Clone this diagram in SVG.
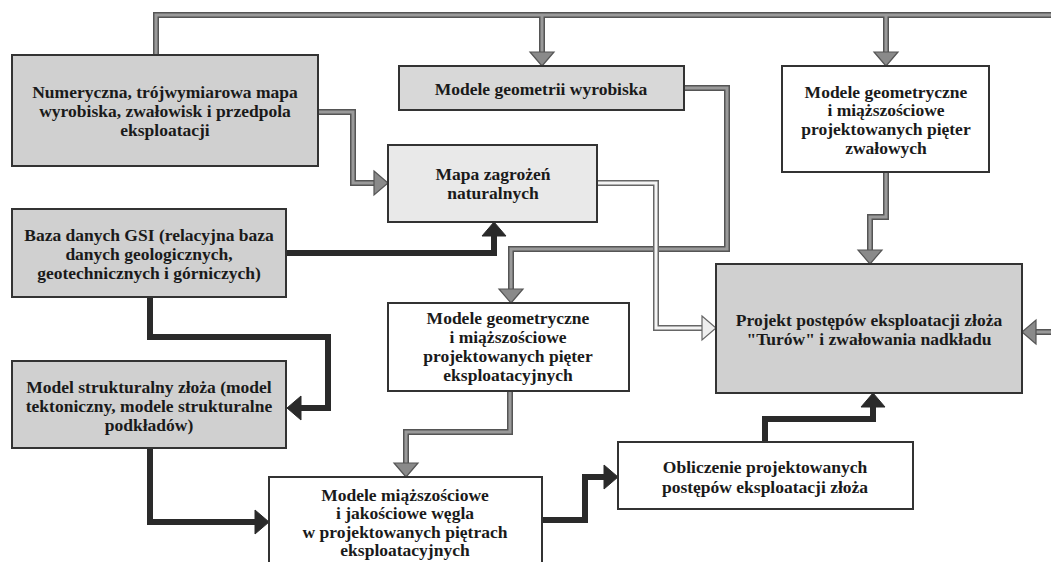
<svg xmlns="http://www.w3.org/2000/svg" xmlns:xlink="http://www.w3.org/1999/xlink" width="1051" height="562" viewBox="0 0 1051 562">
  <style>
    .box { stroke: #333; stroke-width: 2; }
    .dark { fill: #d0d0d0; }
    .mid { fill: #d8d8d8; }
    .light { fill: #e9e9e9; }
    .white { fill: #ffffff; }
    text { font-family: "Liberation Serif", "Times New Roman", serif; font-weight: bold; font-size: 17.5px; fill: #1a1a1a; text-anchor: middle; }
    .gOut { fill: none; stroke: #555; stroke-width: 6; stroke-linejoin: miter; }
    .gIn { fill: none; stroke: #9a9a9a; stroke-width: 3; stroke-linejoin: miter; }
    .lOut { fill: none; stroke: #666; stroke-width: 6; stroke-linejoin: miter; }
    .lIn { fill: none; stroke: #f4f4f4; stroke-width: 3; stroke-linejoin: miter; }
    .bk { fill: none; stroke: #2a2a2a; stroke-width: 6; stroke-linejoin: miter; }
    .gHead { fill: #8a8a8a; stroke: #555; stroke-width: 1.2; }
    .lHead { fill: #eeeeee; stroke: #666; stroke-width: 1.2; }
    .bHead { fill: #2a2a2a; stroke: #2a2a2a; stroke-width: 1; }
  </style>
  <defs>
    <!-- arrowhead pointing right, tip at the origin -->
    <polygon id="head" points="-14,-12 0,0 -14,12"/>
  </defs>
  <rect width="1051" height="562" fill="#ffffff"/>

  <!-- connectors -->
  <g id="connectors">
    <!-- grey double-line flows: outlines first, then cores -->
    <g class="gOut">
      <path d="M156,55 V15 H1051"/>
      <path d="M542,15 V53"/>
      <path d="M886,15 V53"/>
      <path d="M318,112 H353 V183 H375"/>
      <path d="M684,88 H727 V249 H511 V290"/>
      <path d="M886,172 V217 H870 V251"/>
      <path d="M1051,332 H1035"/>
      <path d="M510,391 V432 H406 V464"/>
    </g>
    <g class="gIn">
      <path d="M156,55 V15 H1051"/>
      <path d="M542,15 V54"/>
      <path d="M886,15 V54"/>
      <path d="M318,112 H353 V183 H376"/>
      <path d="M684,88 H727 V249 H511 V291"/>
      <path d="M886,172 V217 H870 V252"/>
      <path d="M1051,332 H1034"/>
      <path d="M510,391 V432 H406 V465"/>
    </g>
    <use xlink:href="#head" class="gHead" transform="translate(542,66) rotate(90)"/>
    <use xlink:href="#head" class="gHead" transform="translate(886,66) rotate(90)"/>
    <use xlink:href="#head" class="gHead" transform="translate(388,183)"/>
    <use xlink:href="#head" class="gHead" transform="translate(511,303) rotate(90)"/>
    <use xlink:href="#head" class="gHead" transform="translate(870,264) rotate(90)"/>
    <use xlink:href="#head" class="gHead" transform="translate(1022,332) rotate(180)"/>
    <use xlink:href="#head" class="gHead" transform="translate(406,477) rotate(90)"/>

    <!-- pale hollow flow -->
    <path class="lOut" d="M597,183 H656 V328 H703"/>
    <path class="lIn" d="M597,183 H656 V328 H704"/>
    <use xlink:href="#head" class="lHead" transform="translate(716,328)"/>

    <!-- heavy black flows -->
    <path class="bk" d="M286,253 H494 V235"/>
    <use xlink:href="#head" class="bHead" transform="translate(494,222) rotate(-90)"/>
    <path class="bk" d="M150,297 V337 H328 V408 H300"/>
    <use xlink:href="#head" class="bHead" transform="translate(287,408) rotate(180)"/>
    <path class="bk" d="M150,448 V522 H256"/>
    <use xlink:href="#head" class="bHead" transform="translate(269,522)"/>
    <path class="bk" d="M542,520 H585 V477 H605"/>
    <use xlink:href="#head" class="bHead" transform="translate(618,477)"/>
    <path class="bk" d="M765,442 V419 H873 V406"/>
    <use xlink:href="#head" class="bHead" transform="translate(873,393) rotate(-90)"/>
  </g>

  <!-- nodes -->
  <g id="node-mapa-3d">
    <rect class="box dark" x="12" y="55" width="306" height="111"/>
    <text x="165" y="98">Numeryczna, trójwymiarowa mapa</text>
    <text x="165" y="117">wyrobiska, zwałowisk i przedpola</text>
    <text x="165" y="136">eksploatacji</text>
  </g>

  <g id="node-geometria-wyrobiska">
    <rect class="box mid" x="399" y="66" width="285" height="44"/>
    <text x="541" y="95">Modele geometrii wyrobiska</text>
  </g>

  <g id="node-pietra-zwalowe">
    <rect class="box white" x="782" y="66" width="207" height="106"/>
    <text x="886" y="98">Modele geometryczne</text>
    <text x="886" y="116">i miąższościowe</text>
    <text x="886" y="135">projektowanych pięter</text>
    <text x="886" y="154">zwałowych</text>
  </g>

  <g id="node-zagrozenia">
    <rect class="box light" x="388" y="145" width="209" height="77"/>
    <text x="493" y="180">Mapa zagrożeń</text>
    <text x="493" y="199">naturalnych</text>
  </g>

  <g id="node-baza-gsi">
    <rect class="box dark" x="12" y="209" width="274" height="88"/>
    <text x="149" y="241">Baza danych GSI (relacyjna baza</text>
    <text x="149" y="260">danych geologicznych,</text>
    <text x="149" y="279">geotechnicznych i górniczych)</text>
  </g>

  <g id="node-projekt">
    <rect class="box dark" x="716" y="264" width="306" height="129"/>
    <text x="869" y="326">Projekt postępów eksploatacji złoża</text>
    <text x="869" y="345">"Turów" i zwałowania nadkładu</text>
  </g>

  <g id="node-pietra-eksploatacyjne">
    <rect class="box white" x="388" y="303" width="241" height="88"/>
    <text x="508" y="324">Modele geometryczne</text>
    <text x="508" y="343">i miąższościowe</text>
    <text x="508" y="362">projektowanych pięter</text>
    <text x="508" y="381">eksploatacyjnych</text>
  </g>

  <g id="node-model-strukturalny">
    <rect class="box dark" x="12" y="361" width="274" height="87"/>
    <text x="149" y="393">Model strukturalny złoża (model</text>
    <text x="149" y="412">tektoniczny, modele strukturalne</text>
    <text x="149" y="431">podkładów)</text>
  </g>

  <g id="node-obliczenie">
    <rect class="box white" x="618" y="442" width="295" height="67"/>
    <text x="765" y="473">Obliczenie projektowanych</text>
    <text x="765" y="493">postępów eksploatacji złoża</text>
  </g>

  <g id="node-wegiel">
    <rect class="box white" x="269" y="477" width="273" height="100"/>
    <text x="405" y="501">Modele miąższościowe</text>
    <text x="405" y="519">i jakościowe węgla</text>
    <text x="405" y="538">w projektowanych piętrach</text>
    <text x="405" y="556">eksploatacyjnych</text>
  </g>
</svg>
